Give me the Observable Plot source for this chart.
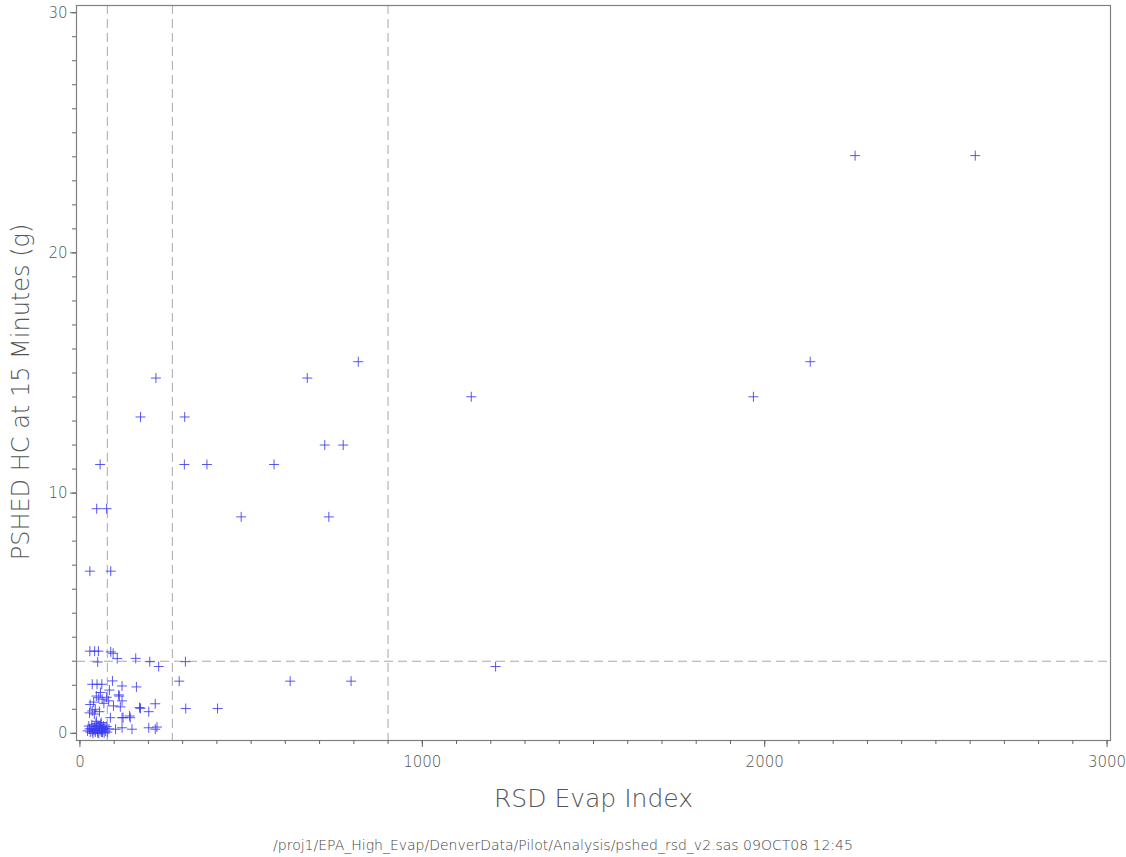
<!DOCTYPE html>
<html>
<head>
<meta charset="utf-8">
<script src="https://cdn.jsdelivr.net/npm/d3@7"></script>
<script src="https://cdn.jsdelivr.net/npm/@observablehq/plot@0.6"></script>
<style>
  html, body { margin: 0; padding: 0; background: #fff; }
  #chart { width: 1126px; }
  #caption { width: 1126px; text-align: center; font-family: "DejaVu Sans", sans-serif; font-weight: 200; font-size: 14px; color: #444; line-height: 20px; padding-top: 15px; }
</style>
</head>
<body>
<div id="chart"></div>
<div id="caption"></div>
<script>
// RSD Evap Index (x) and PSHED HC at 15 minutes in grams (y)
const rsdIndex = [
  29, 90, 49, 78, 59, 305, 371, 567, 471, 727, 177, 306, 222, 664, 715, 769, 813, 1143, 1967, 2133, 2264, 2615, 1214,
  29, 43, 54, 90, 97, 109, 52, 163, 204, 230, 308,
  36, 50, 64, 95, 123, 165, 290, 614, 792,
  55, 65, 84, 113, 123, 220, 177, 201, 309, 402,
  36, 45, 89, 123, 147, 118, 98,
  104, 123, 152, 201, 220, 225,
  40, 48, 60, 70, 78, 86, 30, 115, 174, 145, 126, 28, 42, 57,
  22, 26, 30, 33, 35, 38, 40, 42, 45, 47, 49, 51, 53, 55, 57, 59, 61, 63, 65, 67, 69, 71, 73, 75, 78,
  28, 44, 58, 66, 36, 52, 80, 85, 62, 48
];
const pshedHC = [
  6.75, 6.75, 9.35, 9.35, 11.19, 11.19, 11.19, 11.19, 9.01, 9.01, 13.17, 13.17, 14.79, 14.79, 12.0, 12.0, 15.47, 14.01, 14.01, 15.47, 24.05, 24.05, 2.78,
  3.42, 3.42, 3.42, 3.39, 3.33, 3.11, 2.97, 3.12, 2.98, 2.78, 2.98,
  2.04, 2.04, 2.04, 2.18, 1.97, 1.93, 2.17, 2.17, 2.17,
  1.48, 1.42, 1.35, 1.6, 1.35, 1.23, 1.04, 0.9, 1.03, 1.03,
  0.93, 1.0, 0.65, 0.65, 0.65, 1.1, 1.14,
  0.17, 0.23, 0.17, 0.23, 0.17, 0.26,
  1.3, 1.55, 1.7, 1.25, 1.5, 1.8, 1.2, 1.55, 1.07, 0.72, 0.65, 0.85, 0.8, 0.9,
  0.1, 0.3, 0.05, 0.2, 0.35, 0.0, 0.15, 0.28, 0.05, 0.4, 0.2, 0.1, 0.32, 0.0, 0.22, 0.12, 0.38, 0.05, 0.25, 0.15, 0.3, 0.02, 0.2, 0.1, 0.28,
  0.18, 0.12, 0.3, 0.05, 0.08, 0.02, 0.05, 0.18, 0.45, 0.5
];
const xTicks = [0, 1000, 2000, 3000];
const yTicks = [0, 10, 20, 30];
const xMinorTicks = [0,100,200,300,400,500,600,700,800,900,1000,1100,1200,1300,1400,1500,1600,1700,1800,1900,2000,2100,2200,2300,2400,2500,2600,2700,2800,2900,3000];
const yMinorTicks = [0,1,2,3,4,5,6,7,8,9,10,11,12,13,14,15,16,17,18,19,20,21,22,23,24,25,26,27,28,29,30];
const xRefLines = [80, 270, 900];
const yRefLines = [3];
const xLabel = "RSD Evap Index";
const yLabel = "PSHED HC at 15 Minutes (g)";
const captionText = "/proj1/EPA_High_Evap/DenverData/Pilot/Analysis/pshed_rsd_v2.sas 09OCT08 12:45";

const points = rsdIndex.map((x, i) => ({x, y: pshedHC[i]}));

const plusSymbol = {
  draw(ctx, size) {
    const r = Math.sqrt(size / Math.PI);
    ctx.moveTo(-r, 0); ctx.lineTo(r, 0);
    ctx.moveTo(0, -r); ctx.lineTo(0, r);
  }
};

const gray = "#555";
const chart = Plot.plot({
  width: 1126,
  height: 820,
  marginTop: 5,
  marginBottom: 80,
  marginLeft: 76,
  marginRight: 16,
  style: {fontFamily: "DejaVu Sans, sans-serif", fontWeight: 200, fontSize: "14px", color: gray, background: "#fff"},
  x: {domain: [-10, 3010]},
  y: {domain: [-0.3, 30.3]},
  marks: [
    Plot.ruleX(xRefLines, {stroke: "#a8a8a8", strokeDasharray: "9,5", strokeWidth: 1}),
    Plot.ruleY(yRefLines, {stroke: "#a8a8a8", strokeDasharray: "9,5", strokeWidth: 1}),
    Plot.frame({stroke: "#808080", strokeWidth: 1.2}),
    Plot.axisX({ticks: xMinorTicks, tickSize: 4, text: null, label: null, stroke: "#666"}),
    Plot.axisX({ticks: xTicks, tickSize: 7, tickPadding: 9, tickFormat: d => String(d), label: null, stroke: "#666", fill: gray, fontSize: 15}),
    Plot.axisY({ticks: yMinorTicks, tickSize: 4, text: null, label: null, stroke: "#666"}),
    Plot.axisY({ticks: yTicks, tickSize: 6, tickPadding: 3, tickFormat: d => String(d), label: null, stroke: "#666", fill: gray, fontSize: 15}),
    Plot.dot(points, {x: "x", y: "y", symbol: plusSymbol, r: 5, stroke: "#3b3bf0", fill: "none", strokeWidth: 1, strokeOpacity: 0.85}),
    Plot.text([xLabel], {frameAnchor: "bottom", dy: 66, fontSize: 25, fill: gray}),
    Plot.text([yLabel], {frameAnchor: "left", textAnchor: "middle", dx: -55, dy: 19, rotate: -90, fontSize: 24, fill: gray})
  ]
});
document.getElementById("chart").appendChild(chart);
document.getElementById("caption").textContent = captionText;
</script>
</body>
</html>
